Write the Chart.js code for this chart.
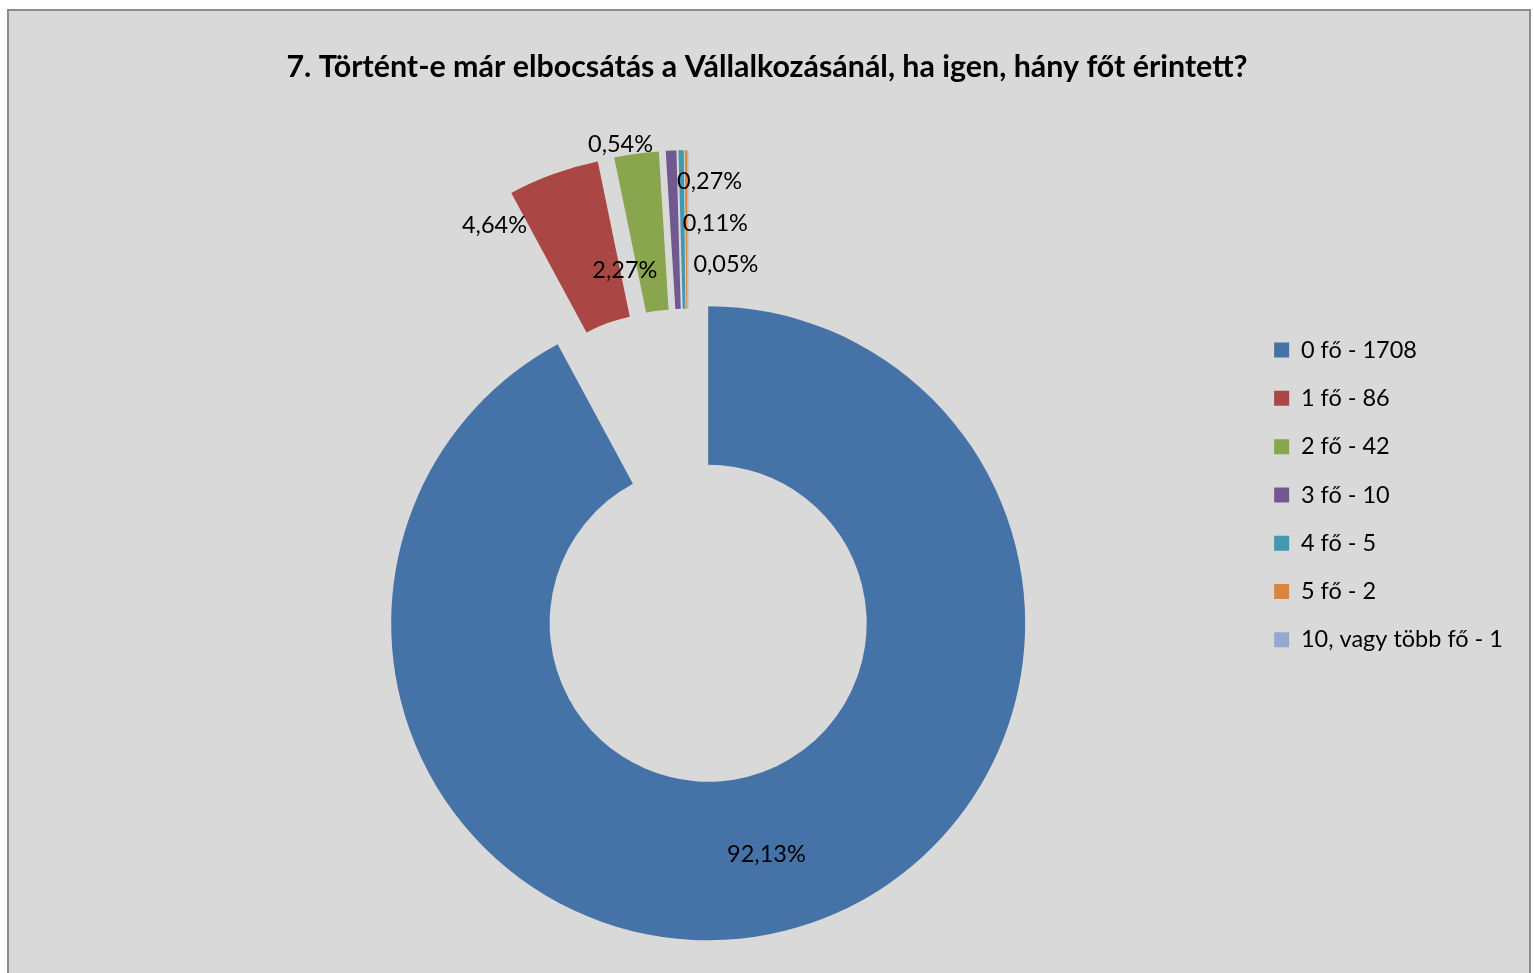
<!DOCTYPE html>
<html>
<head>
<meta charset="utf-8">
<script src="https://cdn.jsdelivr.net/npm/chart.js@4.4.1/dist/chart.umd.min.js"></script>
<style>
  html, body { margin: 0; padding: 0; background: #fff; overflow: hidden; }
  #frame { position: absolute; left: 7px; top: 9px; width: 1520px; height: 1000px;
           border: 2px solid #8c8c8c; background: #d9d9d9; }
  #chart { position: absolute; left: 0; top: 0; }
</style>
</head>
<body>
<div id="frame"></div>
<canvas id="chart" width="1534" height="973"></canvas>
<script>
const titleText = "7. Történt-e már elbocsátás a Vállalkozásánál, ha igen, hány főt érintett?";
const categories = ["0 fő", "1 fő", "2 fő", "3 fő", "4 fő", "5 fő", "10, vagy több fő"];
const counts = [1708, 86, 42, 10, 5, 2, 1];
const colors = ["#4572A7", "#AA4643", "#89A54E", "#71588F", "#4198AF", "#DB843D", "#93A9CF"];

// pie sits left of the chart area centre
const centerShift = 73;
// exploded slices: each moves out along its own angle, plus the whole group moves out along the group's angle
const explode = [0, 78, 78, 78, 78, 78, 78];
const groupExplode = 80.5;
// where each percent label sits relative to the slice centre
const labelNudge = [[0, 1], [-86, -23], [-22, 38], [-54, -85], [27, -48], [29, -6], [38, 35]];

const total = counts.reduce((a, b) => a + b, 0);

const pctLabels = {
  id: "pctLabels",
  afterUpdate(chart) {
    const arcs = chart.getDatasetMeta(0).data;
    const pulled = arcs.filter((a, i) => explode[i] > 0);
    const groupMid = (pulled[0].startAngle + pulled[pulled.length - 1].endAngle) / 2;
    arcs.forEach((arc, i) => {
      const mid = (arc.startAngle + arc.endAngle) / 2;
      arc.x += centerShift;
      if (explode[i] > 0) {
        arc.x += Math.cos(mid) * explode[i] + Math.cos(groupMid) * groupExplode;
        arc.y += Math.sin(mid) * explode[i] + Math.sin(groupMid) * groupExplode;
      }
    });
  },
  afterDatasetsDraw(chart) {
    const ctx = chart.ctx;
    ctx.save();
    ctx.font = "23.5px Lato";
    ctx.fillStyle = "#000";
    ctx.textAlign = "center";
    ctx.textBaseline = "middle";
    chart.getDatasetMeta(0).data.forEach((arc, i) => {
      const mid = (arc.startAngle + arc.endAngle) / 2;
      const r = (arc.innerRadius + arc.outerRadius) / 2;
      const x = arc.x + Math.cos(mid) * r + labelNudge[i][0];
      const y = arc.y + Math.sin(mid) * r + labelNudge[i][1];
      const pct = (counts[i] / total * 100).toFixed(2).replace(".", ",") + "%";
      ctx.fillText(pct, x, y);
    });
    ctx.restore();
  }
};

document.fonts.load("23.5px Lato").then(() => document.fonts.load("bold 30.4px Lato")).then(() => {
  new Chart(document.getElementById("chart"), {
    type: "doughnut",
    data: {
      labels: categories.map((c, i) => c + " - " + counts[i]),
      datasets: [{
        data: counts,
        backgroundColor: colors,
        borderWidth: 0,
        radius: 317,
        cutout: "50%",
        clip: false
      }]
    },
    options: {
      responsive: false,
      animation: false,
      layout: { padding: { left: 21, right: 21, top: 0, bottom: 40 } },
      plugins: {
        title: {
          display: true,
          text: titleText,
          color: "#000",
          font: { family: "Lato", size: 30.4, weight: "bold" },
          padding: { top: 49, bottom: 228 }
        },
        legend: {
          position: "right",
          align: "start",
          fullSize: false,
          labels: {
            boxWidth: 15,
            boxHeight: 15,
            padding: 24.8,
            color: "#000",
            font: { family: "Lato", size: 23.5 }
          }
        },
        tooltip: { enabled: false }
      }
    },
    plugins: [pctLabels]
  });
});
</script>
</body>
</html>
